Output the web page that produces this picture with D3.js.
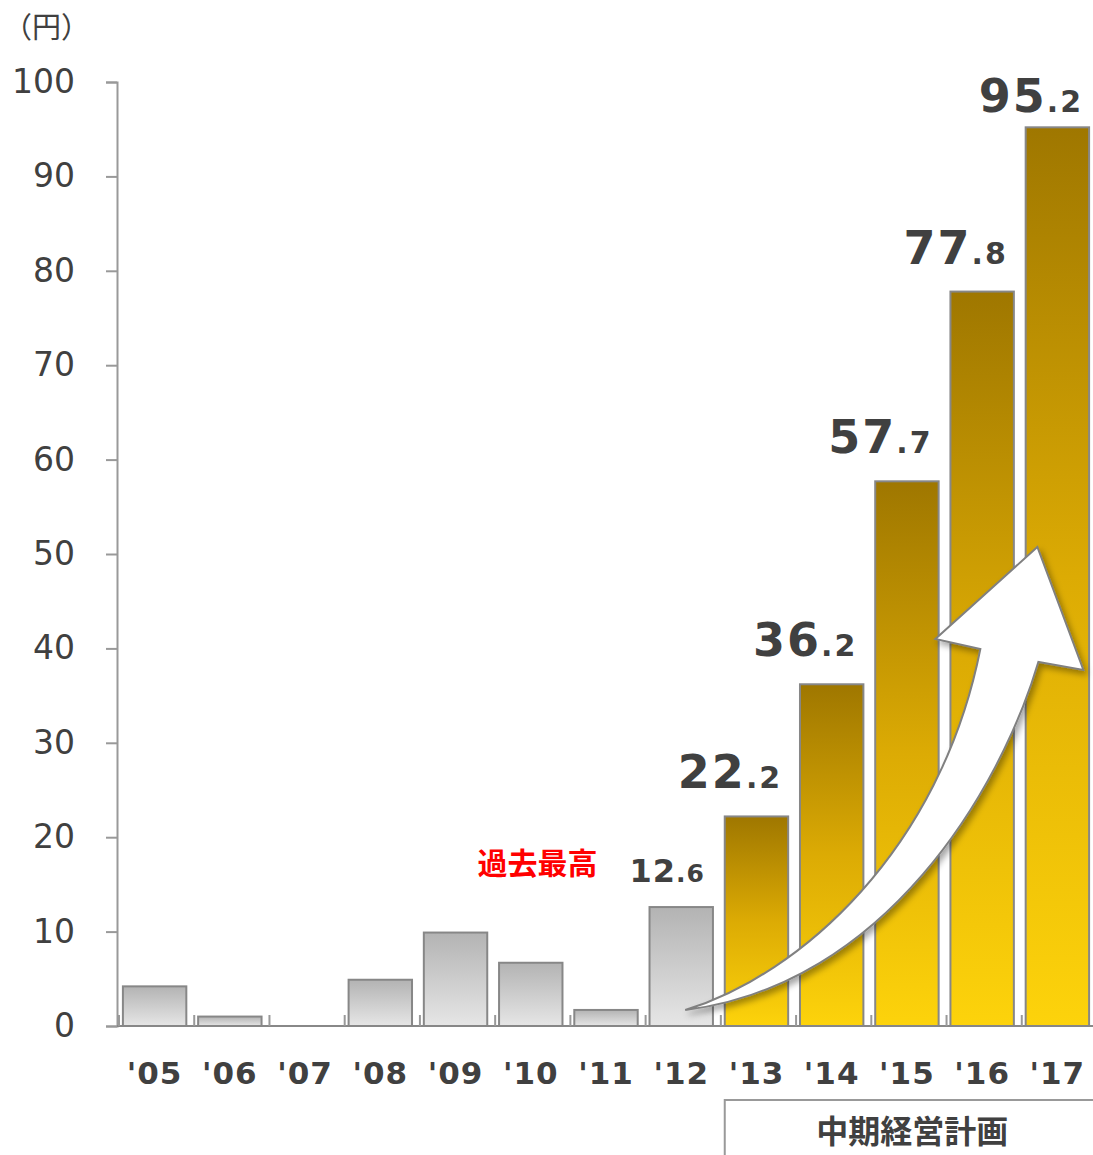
<!DOCTYPE html>
<html><head><meta charset="utf-8">
<script src="https://cdn.jsdelivr.net/npm/d3@7"></script>
<style>
html,body{margin:0;padding:0;background:#fff;}
svg{display:block;}
</style></head>
<body>
<svg id="c" width="1093" height="1155"></svg>
<script>
const years = ["'05","'06","'07","'08","'09","'10","'11","'12","'13","'14","'15","'16","'17"];
const values = [4.2, 1.0, 0, 4.9, 9.9, 6.7, 1.7, 12.6, 22.2, 36.2, 57.7, 77.8, 95.2];
const planYears = ["'13","'14","'15","'16","'17"];
const labeledYears = ["'12","'13","'14","'15","'16","'17"];
const yTicks = [0,10,20,30,40,50,60,70,80,90,100];
const unitLabel = "（円）";
const recordLabel = "過去最高";
const planLabel = "中期経営計画";
// arrow outline in chart units: [category index position, value]
const arrowPts = {
  tail:[7.553,1.69], u1:[9.082,5.40], u2:[10.944,18.64], lneck:[11.476,39.94],
  lcorner:[10.878,41.0], tip:[12.234,50.74], rcorner:[12.846,37.71], rneck:[12.247,38.56],
  l1:[11.742,25.0], l2:[10.213,4.34]
};

const svg = d3.select("#c");
const x0 = 117, x1 = 1095, yTop = 82, yBot = 1026;
const x = d3.scaleBand().domain(years).range([x0, x1]).paddingInner(0.157).paddingOuter(0.0785);
const xi = d3.scaleLinear().domain([0, years.length]).range([x0, x1]);
const y = d3.scaleLinear().domain([0, 100]).range([yBot, yTop]);

const defs = svg.append("defs");
const gg = defs.append("linearGradient").attr("id","gray").attr("x1",0).attr("y1",0).attr("x2",0).attr("y2",1);
gg.append("stop").attr("offset",0).attr("stop-color","#b3b3b3");
gg.append("stop").attr("offset",1).attr("stop-color","#e6e6e6");
const gd = defs.append("linearGradient").attr("id","gold").attr("x1",0).attr("y1",0).attr("x2",0).attr("y2",1);
gd.append("stop").attr("offset",0).attr("stop-color","#9f7700");
gd.append("stop").attr("offset",0.5).attr("stop-color","#dcab04");
gd.append("stop").attr("offset",1).attr("stop-color","#fdd30b");
const f = defs.append("filter").attr("id","sh").attr("x","-20%").attr("y","-20%").attr("width","150%").attr("height","150%");
f.append("feDropShadow").attr("dx",3).attr("dy",4).attr("stdDeviation",3).attr("flood-color","#000").attr("flood-opacity",0.35);

// y axis
const yAxis = d3.axisLeft(y).tickValues(yTicks).tickSize(11).tickSizeOuter(11).tickPadding(31);
const ga = svg.append("g").attr("transform",`translate(${x0},0)`).call(yAxis);
ga.select(".domain").attr("stroke","#999").attr("stroke-width",2);
ga.selectAll(".tick line").attr("stroke","#999").attr("stroke-width",2);
ga.selectAll(".tick text").attr("fill","#404040").attr("font-size",33)
  .attr("font-family","'DejaVu Sans', sans-serif");

// baseline + category ticks
svg.append("line").attr("x1",x0).attr("x2",1093).attr("y1",yBot).attr("y2",yBot)
  .attr("stroke","#888").attr("stroke-width",2);
svg.append("g").selectAll("line").data(d3.range(0, years.length)).join("line")
  .attr("x1",d=>xi(d)+2).attr("x2",d=>xi(d)+2).attr("y1",yBot-11).attr("y2",yBot)
  .attr("stroke","#999").attr("stroke-width",2);

// bars
const data = years.map((yr,i)=>({yr, v:values[i], plan: planYears.includes(yr)}));
svg.append("g").selectAll("rect").data(data.filter(d=>d.v>0)).join("rect")
  .attr("x",d=>x(d.yr)).attr("width",x.bandwidth())
  .attr("y",d=>y(d.v)).attr("height",d=>y(0)-y(d.v))
  .attr("fill",d=>d.plan?"url(#gold)":"url(#gray)")
  .attr("stroke","#878787").attr("stroke-width",2);

// x labels
svg.append("g").selectAll("text").data(years).join("text")
  .attr("x",d=>x(d)+x.bandwidth()/2).attr("y",1084)
  .attr("text-anchor","middle").attr("font-size",31).attr("font-weight","bold")
  .attr("letter-spacing",1)
  .attr("font-family","'DejaVu Sans', sans-serif").attr("fill","#404040").text(d=>d);

// arrow
const P = k => [xi(arrowPts[k][0]), y(arrowPts[k][1])];
const pth = d3.path();
pth.moveTo(...P("tail"));
pth.bezierCurveTo(...P("u1"), ...P("u2"), ...P("lneck"));
pth.lineTo(...P("lcorner"));
pth.lineTo(...P("tip"));
pth.lineTo(...P("rcorner"));
pth.lineTo(...P("rneck"));
pth.bezierCurveTo(...P("l1"), ...P("l2"), ...P("tail"));
pth.closePath();
svg.append("path").attr("d",pth.toString()).attr("fill","#fff")
  .attr("stroke","#808080").attr("stroke-width",2).attr("stroke-linejoin","miter")
  .attr("filter","url(#sh)");

// value labels
const lab = svg.append("g").attr("font-family","'DejaVu Sans', sans-serif").attr("font-weight","bold").attr("fill","#404040");
data.filter(d=>labeledYears.includes(d.yr)).forEach(d=>{
  const parts = d.v.toFixed(1).split(".");
  const big = d.plan;
  const t = lab.append("text")
    .attr("x", x(d.yr)+x.bandwidth() - (big?6:8))
    .attr("y", big ? Math.max(y(d.v)-28, 112) : y(d.v)-25)
    .attr("text-anchor","end").attr("letter-spacing", big?2:1);
  t.append("tspan").attr("font-size", big?46:32).text(parts[0]);
  t.append("tspan").attr("font-size", big?30:25).text("."+parts[1]);
});

// record label
const r12 = data.find(d=>d.yr==="'12");
svg.append("text").attr("x", x(r12.yr)-52).attr("y", y(r12.v)-33)
  .attr("text-anchor","end").attr("font-size",30).attr("font-weight","bold")
  .attr("font-family","'Noto Sans CJK JP', sans-serif").attr("fill","#ff0000").text(recordLabel);

// unit label
svg.append("text").attr("x",3).attr("y",38).attr("font-size",29)
  .attr("font-family","'Noto Sans CJK JP', sans-serif").attr("fill","#404040").text(unitLabel);

// plan box
const bx = x(planYears[0]);
svg.append("rect").attr("x",bx).attr("y",1100).attr("width",1110-bx).attr("height",80)
  .attr("fill","none").attr("stroke","#999").attr("stroke-width",2);
svg.append("text").attr("x",(bx+1100)/2).attr("y",1143).attr("text-anchor","middle")
  .attr("font-size",32).attr("font-weight","bold")
  .attr("font-family","'Noto Sans CJK JP', sans-serif").attr("fill","#404040").text(planLabel);
</script>
</body></html>
